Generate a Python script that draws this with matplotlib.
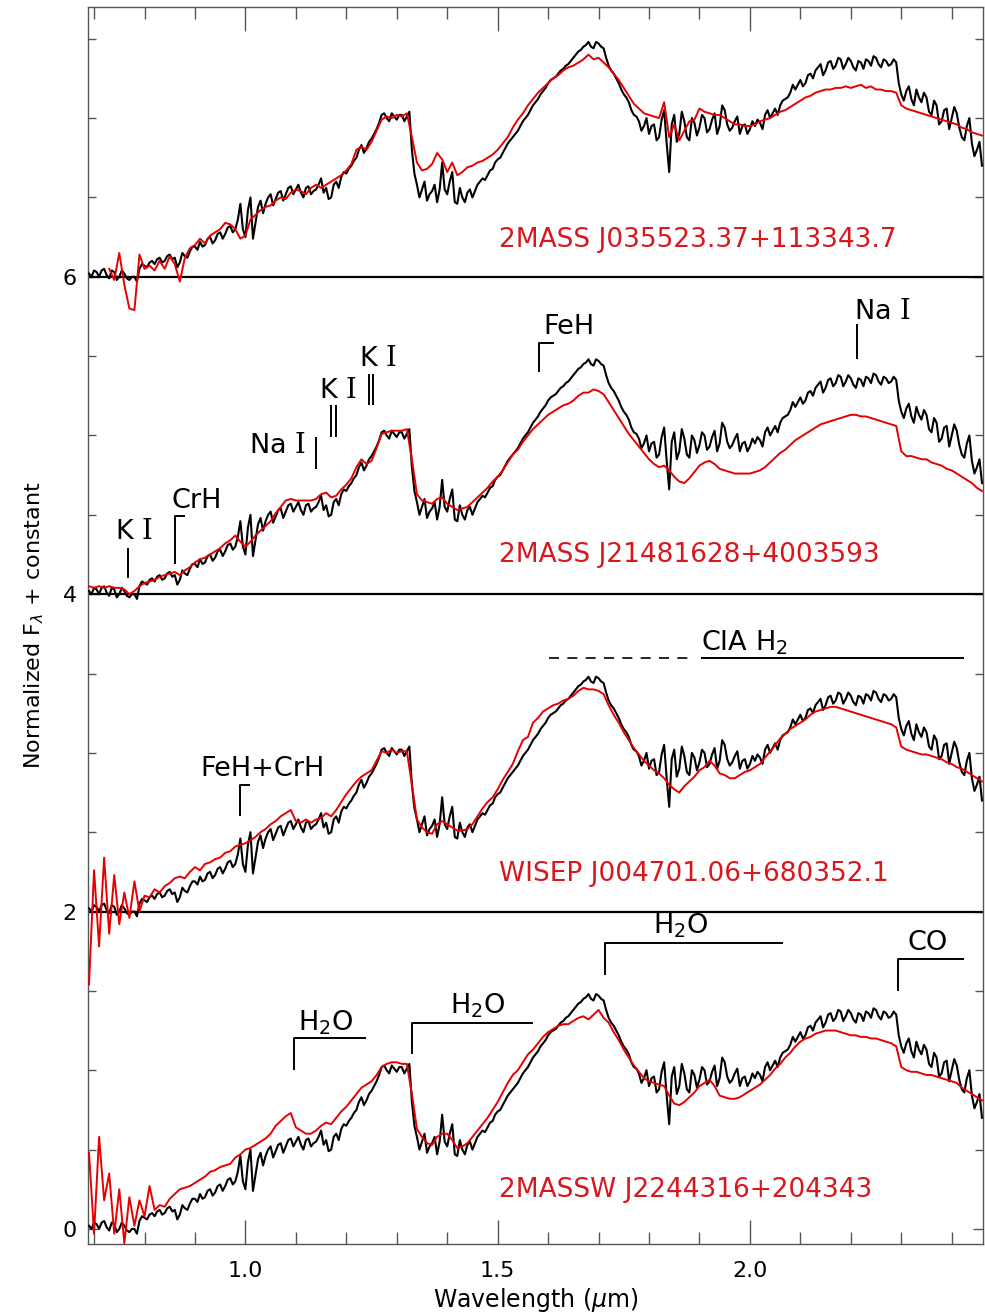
import numpy as np
import matplotlib
matplotlib.use("Agg")
import matplotlib.pyplot as plt

plt.rcParams["font.family"] = ["DejaVu Sans"]
plt.rcParams["mathtext.fontset"] = "custom"
plt.rcParams["mathtext.rm"] = "DejaVu Serif"
plt.rcParams["mathtext.sf"] = "DejaVu Sans"
plt.rcParams["mathtext.it"] = "DejaVu Sans:italic"

nan = np.nan

# wavelength grid in micron: 0.69 ... 2.46
wavelength = np.arange(69, 247) / 100.0
# half-step points used by the standard: 0.695 ... 2.455
wavelength_mid = np.arange(139, 492, 2) / 200.0

# spectral standard (black), normalized flux on the main grid
standard = [
    0.02, 0.04, 0.00, 0.05, -0.01, 0.03, 0.00, 0.02, -0.02, 0.00,   # 0.69
    0.05, 0.07, 0.09, 0.08, 0.12, 0.10, 0.14, 0.12, 0.09, 0.13,     # 0.79
    0.16, 0.19, 0.22, 0.20, 0.25, 0.23, 0.28, 0.27, 0.32, 0.30,     # 0.89
    0.46, 0.25, 0.50, 0.34, 0.48, 0.46, 0.52, 0.49, 0.54, 0.52,     # 0.99
    0.57, 0.55, 0.53, 0.56, 0.52, 0.55, 0.62, 0.56, 0.50, 0.60,     # 1.09
    0.63, 0.65, 0.70, 0.75, 0.83, 0.81, 0.87, 0.93, 1.02, 1.00,     # 1.19
    1.03, 0.99, 1.02, 1.01, 0.80, 0.58, 0.55, 0.48, 0.54, 0.47,     # 1.29
    0.72, 0.52, 0.66, 0.46, 0.50, 0.53, 0.50, 0.58, 0.62, 0.64,     # 1.39
    0.68, 0.74, 0.78, 0.84, 0.88, 0.92, 0.98, 1.02, 1.08, 1.12,     # 1.49
    1.17, 1.22, 1.25, 1.28, 1.31, 1.34, 1.38, 1.42, 1.45, 1.48,     # 1.59
    1.44, 1.47, 1.44, 1.33, 1.28, 1.22, 1.15, 1.10, 1.02, 0.98,     # 1.69
    0.95, 0.90, 0.96, 0.88, 1.05, 0.66, 1.02, 0.90, 0.98, 0.86,     # 1.79
    0.97, 0.94, 1.00, 0.93, 1.03, 0.95, 1.05, 0.92, 0.98, 0.90,     # 1.89
    0.96, 0.93, 0.95, 0.97, 1.02, 1.00, 1.06, 1.08, 1.12, 1.16,     # 1.99
    1.18, 1.24, 1.22, 1.28, 1.30, 1.34, 1.30, 1.36, 1.33, 1.37,     # 2.09
    1.34, 1.36, 1.30, 1.35, 1.37, 1.33, 1.38, 1.32, 1.36, 1.34,     # 2.19
    1.35, 1.15, 1.17, 1.12, 1.18, 1.10, 1.13, 1.02, 1.08, 0.98,     # 2.29
    1.06, 1.00, 1.03, 0.88, 0.95, 0.84, 0.80, 0.70,                 # 2.39
]

# spectral standard at the half-step points
standard_mid = [
    0.00, 0.03, 0.04, 0.01, 0.04, -0.02, 0.04, -0.01, 0.00, -0.03,  # 0.695
    0.08, 0.06, 0.10, 0.11, 0.09, 0.13, 0.11, 0.06, 0.15, 0.12,     # 0.795
    0.19, 0.17, 0.19, 0.24, 0.21, 0.27, 0.24, 0.31, 0.28, 0.36,     # 0.895
    0.30, 0.42, 0.24, 0.44, 0.40, 0.50, 0.45, 0.53, 0.48, 0.56,     # 0.995
    0.52, 0.58, 0.50, 0.57, 0.54, 0.58, 0.53, 0.49, 0.58, 0.56,     # 1.095
    0.66, 0.68, 0.73, 0.80, 0.78, 0.85, 0.90, 0.97, 1.03, 0.98,     # 1.195
    1.01, 1.02, 0.98, 1.04, 0.65, 0.50, 0.60, 0.52, 0.58, 0.55,     # 1.295
    0.55, 0.60, 0.47, 0.56, 0.47, 0.55, 0.54, 0.60, 0.61, 0.67,     # 1.395
    0.72, 0.75, 0.81, 0.86, 0.90, 0.95, 1.00, 1.05, 1.10, 1.15,     # 1.495
    1.19, 1.24, 1.26, 1.30, 1.33, 1.36, 1.40, 1.43, 1.46, 1.45,     # 1.595
    1.48, 1.45, 1.38, 1.30, 1.25, 1.18, 1.13, 1.05, 1.01, 0.92,     # 1.695
    1.00, 0.95, 0.86, 0.99, 0.84, 0.96, 0.85, 1.04, 0.88, 1.00,     # 1.795
    0.89, 1.02, 0.91, 0.99, 0.90, 1.08, 0.96, 0.94, 1.01, 0.95,     # 1.895
    0.90, 0.98, 0.99, 0.93, 1.05, 1.03, 1.02, 1.11, 1.13, 1.21,     # 1.995
    1.21, 1.20, 1.27, 1.25, 1.32, 1.27, 1.35, 1.31, 1.38, 1.31,     # 2.095
    1.38, 1.32, 1.36, 1.31, 1.36, 1.39, 1.34, 1.37, 1.33, 1.37,     # 2.195
    1.22, 1.11, 1.20, 1.08, 1.13, 1.16, 1.04, 1.11, 0.96, 1.05,     # 2.295
    0.93, 1.07, 0.94, 0.86, 1.00, 0.76, 0.85,                       # 2.395
]

flux_j0355 = [
    nan, nan, nan, nan, 0.05, -0.02, 0.15, -0.05, -0.20, -0.21,
    0.14, 0.05, 0.07, 0.04, 0.10, 0.05, 0.13, 0.08, -0.03, 0.12,
    0.18, 0.20, 0.24, 0.21, 0.26, 0.28, 0.30, 0.34, 0.33, 0.30,
    0.24, 0.26, 0.36, 0.39, 0.42, 0.44, 0.45, 0.48, 0.50, 0.49,
    0.53, 0.55, 0.54, 0.52, 0.56, 0.58, 0.56, 0.58, 0.60, 0.62,
    0.64, 0.67, 0.71, 0.80, 0.82, 0.80, 0.85, 0.92, 0.99, 1.01,
    1.00, 1.02, 1.01, 1.03, 0.88, 0.72, 0.67, 0.68, 0.71, 0.78,
    0.74, 0.66, 0.72, 0.64, 0.66, 0.69, 0.70, 0.72, 0.73, 0.75,
    0.77, 0.80, 0.84, 0.88, 0.94, 0.99, 1.03, 1.08, 1.12, 1.16,
    1.19, 1.22, 1.25, 1.27, 1.30, 1.32, 1.33, 1.35, 1.37, 1.40,
    1.37, 1.38, 1.35, 1.32, 1.28, 1.24, 1.19, 1.14, 1.09, 1.06,
    1.03, 1.02, 1.01, 1.00, 1.10, 0.88, 0.96, 0.86, 0.92, 0.98,
    0.99, 1.06, 1.04, 1.03, 1.02, 1.02, 1.00, 0.98, 0.96, 0.96,
    0.95, 0.95, 0.96, 0.98, 0.99, 1.00, 1.02, 1.04, 1.05, 1.07,
    1.09, 1.11, 1.13, 1.14, 1.16, 1.17, 1.18, 1.18, 1.19, 1.19,
    1.20, 1.19, 1.20, 1.21, 1.19, 1.20, 1.18, 1.18, 1.17, 1.17,
    1.16, 1.08, 1.06, 1.05, 1.04, 1.03, 1.02, 1.01, 1.00, 0.99,
    0.98, 0.97, 0.96, 0.94, 0.93, 0.91, 0.90, 0.89,
]

flux_j2148 = [
    0.05, 0.04, 0.05, 0.04, 0.05, 0.04, 0.04, 0.03, 0.00, 0.02,
    0.05, 0.07, 0.08, 0.09, 0.11, 0.12, 0.13, 0.14, 0.12, 0.15,
    0.17, 0.20, 0.22, 0.23, 0.25, 0.27, 0.29, 0.32, 0.34, 0.37,
    0.33, 0.30, 0.33, 0.37, 0.40, 0.43, 0.46, 0.51, 0.55, 0.59,
    0.60, 0.59, 0.59, 0.59, 0.59, 0.60, 0.63, 0.64, 0.61, 0.62,
    0.66, 0.69, 0.73, 0.80, 0.85, 0.82, 0.84, 0.92, 1.01, 1.02,
    1.03, 1.03, 1.03, 1.04, 0.85, 0.63, 0.59, 0.58, 0.57, 0.60,
    0.61, 0.57, 0.55, 0.53, 0.54, 0.55, 0.58, 0.61, 0.64, 0.67,
    0.71, 0.74, 0.78, 0.83, 0.88, 0.91, 0.96, 1.00, 1.04, 1.07,
    1.10, 1.13, 1.15, 1.17, 1.19, 1.20, 1.22, 1.25, 1.27, 1.27,
    1.29, 1.28, 1.26, 1.21, 1.16, 1.11, 1.06, 1.01, 0.97, 0.93,
    0.89, 0.85, 0.82, 0.80, 0.81, 0.78, 0.74, 0.71, 0.70, 0.73,
    0.77, 0.81, 0.83, 0.84, 0.82, 0.79, 0.78, 0.77, 0.76, 0.76,
    0.76, 0.76, 0.77, 0.78, 0.80, 0.83, 0.86, 0.89, 0.91, 0.94,
    0.97, 0.99, 1.01, 1.03, 1.05, 1.07, 1.08, 1.09, 1.10, 1.11,
    1.12, 1.13, 1.13, 1.12, 1.12, 1.11, 1.10, 1.09, 1.08, 1.07,
    1.06, 0.90, 0.87, 0.87, 0.86, 0.85, 0.85, 0.83, 0.82, 0.81,
    0.79, 0.78, 0.76, 0.74, 0.72, 0.70, 0.67, 0.65,
]

flux_j0047 = [
    -0.46, 0.26, -0.22, 0.34, -0.14, 0.23, -0.08, 0.12, -0.04, 0.19,
    0.00, 0.10, 0.09, 0.14, 0.12, 0.16, 0.18, 0.21, 0.22, 0.21,
    0.25, 0.28, 0.26, 0.30, 0.31, 0.33, 0.34, 0.37, 0.38, 0.41,
    0.42, 0.43, 0.45, 0.47, 0.50, 0.52, 0.55, 0.57, 0.60, 0.62,
    0.64, 0.57, 0.56, 0.58, 0.56, 0.58, 0.59, 0.62, 0.60, 0.64,
    0.69, 0.74, 0.78, 0.82, 0.85, 0.87, 0.89, 0.95, 1.01, 1.00,
    1.02, 1.00, 1.01, 1.01, 0.80, 0.58, 0.53, 0.50, 0.49, 0.55,
    0.57, 0.55, 0.53, 0.51, 0.51, 0.52, 0.55, 0.60, 0.65, 0.69,
    0.72, 0.77, 0.83, 0.88, 0.93, 1.01, 1.08, 1.10, 1.19, 1.22,
    1.26, 1.28, 1.30, 1.31, 1.33, 1.34, 1.36, 1.39, 1.41, 1.40,
    1.40, 1.39, 1.37, 1.30, 1.24, 1.19, 1.13, 1.08, 1.03, 0.99,
    0.95, 0.92, 0.89, 0.87, 0.84, 0.80, 0.77, 0.75, 0.79, 0.82,
    0.85, 0.89, 0.91, 0.95, 0.92, 0.87, 0.86, 0.84, 0.84, 0.86,
    0.88, 0.89, 0.91, 0.93, 0.97, 1.01, 1.05, 1.09, 1.12, 1.15,
    1.17, 1.19, 1.21, 1.24, 1.26, 1.27, 1.28, 1.29, 1.29, 1.28,
    1.27, 1.26, 1.25, 1.24, 1.23, 1.22, 1.21, 1.20, 1.19, 1.18,
    1.16, 1.04, 1.02, 1.01, 1.00, 0.99, 0.99, 0.98, 0.97, 0.96,
    0.94, 0.93, 0.91, 0.90, 0.88, 0.86, 0.84, 0.82,
]

flux_j2244 = [
    0.48, -0.03, 0.58, 0.18, 0.35, -0.03, 0.25, -0.09, 0.20, 0.02,
    0.18, 0.08, 0.27, 0.12, 0.15, 0.14, 0.19, 0.22, 0.25, 0.26,
    0.27, 0.29, 0.31, 0.33, 0.36, 0.37, 0.39, 0.40, 0.41, 0.45,
    0.47, 0.50, 0.51, 0.53, 0.55, 0.57, 0.60, 0.65, 0.68, 0.71,
    0.73, 0.64, 0.62, 0.60, 0.60, 0.62, 0.65, 0.67, 0.66, 0.70,
    0.74, 0.77, 0.81, 0.85, 0.89, 0.91, 0.93, 0.97, 1.02, 1.04,
    1.05, 1.05, 1.04, 1.04, 0.85, 0.63, 0.58, 0.54, 0.53, 0.58,
    0.60, 0.60, 0.56, 0.51, 0.52, 0.54, 0.58, 0.62, 0.66, 0.70,
    0.75, 0.80, 0.86, 0.92, 0.97, 1.00, 1.05, 1.10, 1.13, 1.17,
    1.21, 1.24, 1.26, 1.28, 1.29, 1.29, 1.31, 1.33, 1.34, 1.32,
    1.35, 1.38, 1.33, 1.30, 1.24, 1.19, 1.13, 1.08, 1.03, 0.99,
    0.95, 0.93, 0.92, 0.91, 0.90, 0.84, 0.79, 0.78, 0.80, 0.83,
    0.86, 0.90, 0.92, 0.94, 0.90, 0.84, 0.83, 0.82, 0.82, 0.83,
    0.85, 0.87, 0.89, 0.91, 0.94, 0.97, 1.01, 1.04, 1.08, 1.11,
    1.15, 1.18, 1.20, 1.21, 1.23, 1.24, 1.25, 1.25, 1.25, 1.24,
    1.23, 1.22, 1.22, 1.21, 1.21, 1.20, 1.20, 1.19, 1.18, 1.17,
    1.15, 1.02, 1.00, 0.99, 0.99, 0.98, 0.97, 0.97, 0.96, 0.95,
    0.94, 0.93, 0.92, 0.89, 0.87, 0.85, 0.83, 0.81,
]

object_fluxes = [flux_j0355, flux_j2148, flux_j0047, flux_j2244]
object_names = [
    "2MASS J035523.37+113343.7",
    "2MASS J21481628+4003593",
    "WISEP J004701.06+680352.1",
    "2MASSW J2244316+204343",
]
offsets = [6, 4, 2, 0]
name_baselines = [6.19, 4.20, 2.195, 0.203]

# feature annotations
single_lines = [(0.767, 4.10, 4.29), (1.140, 4.79, 4.99), (2.2115, 5.48, 5.70)]
double_lines = [((1.170, 1.179), 4.99, 5.19), ((1.244, 1.253), 5.19, 5.39)]
brackets = [
    (0.860, 0.880, 4.19, 4.49),
    (1.581, 1.612, 5.40, 5.585),
    (0.990, 1.010, 2.60, 2.80),
    (1.097, 1.240, 1.00, 1.20),
    (1.331, 1.570, 1.10, 1.30),
    (1.713, 2.065, 1.60, 1.80),
    (2.294, 2.425, 1.50, 1.70),
]
labels = [
    (r"K $\mathrm{I}$", 0.779, 4.346, "center"),
    ("CrH", 0.904, 4.541, "center"),
    (r"Na $\mathrm{I}$", 1.064, 4.887, "center"),
    (r"K $\mathrm{I}$", 1.183, 5.233, "center"),
    (r"K $\mathrm{I}$", 1.263, 5.440, "center"),
    ("FeH", 1.642, 5.642, "center"),
    (r"Na $\mathrm{I}$", 2.263, 5.736, "center"),
    ("FeH+CrH", 1.034, 2.855, "center"),
    (r"CIA H$_\mathsf{2}$", 1.904, 3.648, "left"),
    (r"H$_\mathsf{2}$O", 1.159, 1.252, "center"),
    (r"H$_\mathsf{2}$O", 1.460, 1.358, "center"),
    (r"H$_\mathsf{2}$O", 1.863, 1.862, "center"),
    ("CO", 2.352, 1.755, "center"),
]
cia_dashed = (1.602, 1.878, 3.60)
cia_solid = (1.904, 2.424, 3.60)

fig = plt.figure(figsize=(9.85, 13.12), dpi=100)
ax = fig.add_axes([88 / 985, 68 / 1312, 895 / 985, 1237 / 1312])

# merge the two sampling grids of the standard into one ordered spectrum
std_wl = np.empty(wavelength.size + wavelength_mid.size)
std_fx = np.empty_like(std_wl)
std_wl[0::2] = wavelength
std_wl[1::2] = wavelength_mid
std_fx[0::2] = standard
std_fx[1::2] = standard_mid

for flux, off in zip(object_fluxes, offsets):
    ax.plot(std_wl, std_fx + off, color="black", lw=1.5, zorder=3)
    ax.plot(wavelength, np.array(flux) + off, color="#e60000", lw=1.4, zorder=4)

for off in offsets[:-1]:
    ax.axhline(off, color="black", lw=1.6, zorder=2)

for name, yb in zip(object_names, name_baselines):
    ax.text(1.503, yb, name, color="#d8181c", fontsize=19, ha="left", va="baseline")

ann = dict(color="black", lw=1.4, solid_capstyle="butt")
for x, y0, y1 in single_lines:
    ax.plot([x, x], [y0, y1], **ann)
for (x0, x1), y0, y1 in double_lines:
    ax.plot([x0, x0], [y0, y1], **ann)
    ax.plot([x1, x1], [y0, y1], **ann)
for x0, x1, y0, y1 in brackets:
    ax.plot([x0, x0, x1], [y0, y1, y1], **ann)
for text, x, y, ha in labels:
    ax.text(x, y, text, fontsize=19.5, ha=ha, va="baseline", color="black")
ax.plot([cia_dashed[0], cia_dashed[1]], [cia_dashed[2]] * 2, color="black",
        lw=1.2, linestyle=(0, (6, 5)))
ax.plot([cia_solid[0], cia_solid[1]], [cia_solid[2]] * 2, **ann)

ax.set_xlim(0.688, 2.462)
ax.set_ylim(-0.095, 7.70)
ax.set_xticks([1.0, 1.5, 2.0])
ax.set_xticks(np.arange(7, 25) / 10, minor=True)
ax.set_xticklabels(["1.0", "1.5", "2.0"])
ax.set_yticks([0, 2, 4, 6])
ax.set_yticks(np.arange(0, 16) / 2, minor=True)
ax.set_yticklabels(["0", "2", "4", "6"])
ax.tick_params(axis="both", which="both", direction="in", top=True, right=True,
               color="#555555", width=1.0, labelsize=16)
ax.tick_params(axis="x", which="major", length=17, pad=12)
ax.tick_params(axis="x", which="minor", length=8.5)
ax.tick_params(axis="y", which="major", length=7, pad=8)
ax.tick_params(axis="y", which="minor", length=6)
for sp in ax.spines.values():
    sp.set_color("#555555")
    sp.set_linewidth(1.0)

ax.set_xlabel(r"Wavelength ($\mu$m)", fontsize=17, labelpad=4)
ax.set_ylabel(r"Normalized F$_\lambda$ + constant", fontsize=16, labelpad=12)

fig.savefig("out.png", dpi=100)
